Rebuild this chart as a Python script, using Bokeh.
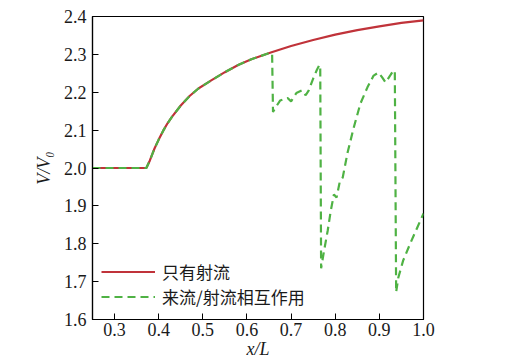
from bokeh.plotting import figure
from bokeh.models import Range1d, FixedTicker, Legend, LegendItem
from bokeh.embed import file_html
from bokeh.resources import INLINE

# --- data ---
jet_x = [0.25, 0.372, 0.38, 0.39, 0.40, 0.41, 0.42, 0.43, 0.45, 0.47, 0.49, 0.52,
         0.55, 0.58, 0.61, 0.654, 0.70, 0.75, 0.80, 0.85, 0.90, 0.95, 1.00]
jet_y = [2.0, 2.0, 2.02, 2.05, 2.075, 2.098, 2.118, 2.135, 2.165, 2.19, 2.21, 2.232,
         2.253, 2.272, 2.287, 2.305, 2.322, 2.338, 2.352, 2.364, 2.374, 2.383, 2.39]

inter_x = [0.25, 0.372, 0.38, 0.39, 0.40, 0.41, 0.42, 0.43, 0.45, 0.47, 0.49, 0.52,
           0.55, 0.58, 0.61, 0.654, 0.657, 0.659, 0.665, 0.675, 0.685, 0.692, 0.700,
           0.712, 0.725, 0.733, 0.740, 0.750, 0.758, 0.764, 0.766, 0.768, 0.774,
           0.783, 0.790, 0.797, 0.803, 0.810, 0.817, 0.828, 0.842, 0.857, 0.873,
           0.887, 0.898, 0.906, 0.914, 0.925, 0.932, 0.935, 0.938, 0.943, 0.954,
           0.970, 0.986, 1.000]
inter_y = [2.0, 2.0, 2.02, 2.05, 2.075, 2.098, 2.118, 2.135, 2.165, 2.19, 2.21, 2.232,
           2.253, 2.272, 2.287, 2.305, 2.30, 2.148, 2.16, 2.178, 2.182, 2.185, 2.176,
           2.198, 2.205, 2.192, 2.205, 2.236, 2.258, 2.272, 2.27, 1.735, 1.777,
           1.835, 1.888, 1.93, 1.922, 1.962, 1.975, 2.041, 2.107, 2.17, 2.213,
           2.244, 2.252, 2.24, 2.226, 2.245, 2.258, 2.255, 1.672, 1.711, 1.756,
           1.801, 1.843, 1.880]

x_ticks = [0.3, 0.4, 0.5, 0.6, 0.7, 0.8, 0.9, 1.0]
y_ticks = [1.6, 1.7, 1.8, 1.9, 2.0, 2.1, 2.2, 2.3, 2.4]
series_names = ["只有射流", "来流/射流相互作用"]
x_label = "x/L"
y_label = "V/V₀"

RED = "#c0333a"
GREEN = "#4fb244"
SERIF = "Liberation Serif"
TXT = "#1a1a1a"

p = figure(width=515, height=362, output_backend="svg", toolbar_location=None,
           x_range=Range1d(0.25, 1.0), y_range=Range1d(1.6, 2.4),
           min_border_left=92, min_border_right=92, min_border_top=16,
           min_border_bottom=43)

p.xgrid.visible = False
p.ygrid.visible = False
p.outline_line_color = "black"
p.outline_line_width = 1.2
p.outline_line_alpha = 1.0

for ax, ticks in ((p.xaxis, x_ticks), (p.yaxis, y_ticks)):
    ax.ticker = FixedTicker(ticks=ticks)
    ax.major_label_overrides = {t: f"{t:.1f}" for t in ticks}
    ax.minor_tick_line_color = None
    ax.major_tick_in = 6
    ax.major_tick_out = 0
    ax.major_tick_line_color = "black"
    ax.axis_line_color = "black"
    ax.axis_line_width = 1.2
    ax.major_label_text_font = SERIF
    ax.major_label_text_font_size = "18px"
    ax.major_label_text_color = TXT
    ax.axis_label_text_font = SERIF
    ax.axis_label_text_font_size = "18px"
    ax.axis_label_text_font_style = "italic"
    ax.axis_label_text_color = TXT

p.xaxis.axis_label = x_label
p.yaxis.axis_label = y_label
p.xaxis.major_label_standoff = 3
p.xaxis.axis_label_standoff = 0
p.yaxis.major_label_standoff = 6
p.yaxis.axis_label_standoff = 7

r1 = p.line(jet_x, jet_y, line_color=RED, line_width=2.2)
r2 = p.line(inter_x, inter_y, line_color=GREEN, line_width=2.2, line_dash="8 5")

legend = Legend(items=[LegendItem(label=series_names[0], renderers=[r1]),
                       LegendItem(label=series_names[1], renderers=[r2])],
                location=(9, 10), padding=0, margin=0, spacing=0,
                glyph_width=54, glyph_height=23, label_height=23,
                label_standoff=7, label_text_font="Noto Sans CJK SC",
                label_text_font_size="17px", label_text_color=TXT,
                border_line_color=None, background_fill_alpha=0.0)
p.add_layout(legend, "center")

open("out.html", "w").write(file_html(p, INLINE))
